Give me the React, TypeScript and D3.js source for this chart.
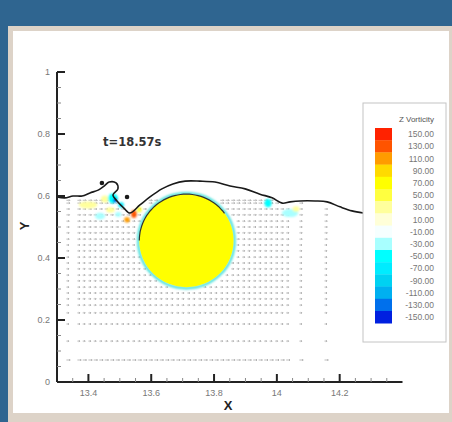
import React from 'react';
import * as d3 from 'd3';

const W = 452;
const H = 422;

// axis ticks
const xTicks = [13.4, 13.6, 13.8, 14, 14.2];
const yTicks = [0, 0.2, 0.4, 0.6, 0.8, 1];
const xMinor = [13.35, 13.45, 13.5, 13.55, 13.65, 13.7, 13.75, 13.85, 13.9, 13.95, 14.05, 14.1, 14.15, 14.25, 14.3, 14.35];
const yMinor = [0.05, 0.1, 0.15, 0.25, 0.3, 0.35, 0.45, 0.5, 0.55, 0.65, 0.7, 0.75, 0.85, 0.9, 0.95];

// Z vorticity contour legend
const legendLevels = [150, 130, 110, 90, 70, 50, 30, 10, -10, -30, -50, -70, -90, -110, -130, -150];
const legendColors = [
  '#ff2200', '#ff5400', '#ff9c00', '#ffda00', '#ffff00', '#ffff40', '#ffff9c', '#ffffd8',
  '#f6ffff', '#a8ffff', '#00ffff', '#00ecff', '#00d2f2', '#00b0f0', '#0070ec', '#0020e0',
];

// free surface at t=18.57s (x, y)
const surface: [number, number][] = [
  [13.3, 0.597], [13.325, 0.594], [13.351, 0.6], [13.38, 0.6], [13.405, 0.61], [13.431, 0.619],
  [13.45, 0.632], [13.466, 0.645], [13.488, 0.642], [13.494, 0.623], [13.478, 0.603], [13.491, 0.584],
  [13.513, 0.561], [13.532, 0.545], [13.564, 0.571], [13.596, 0.597], [13.634, 0.623], [13.669, 0.639],
  [13.708, 0.648], [13.755, 0.648], [13.803, 0.645], [13.851, 0.632], [13.899, 0.623], [13.946, 0.606],
  [13.985, 0.594], [14.017, 0.577], [14.042, 0.581], [14.074, 0.584], [14.122, 0.584], [14.16, 0.581],
  [14.201, 0.565], [14.239, 0.552], [14.275, 0.545],
];
const droplets: [number, number][] = [[13.443, 0.642], [13.523, 0.597]];

const cylinder = { cx: 13.712, cy: 0.456, r: 0.15 };

// velocity vector mesh
const gridX = [
  13.333, 13.368, 13.385, 13.403, 13.42, 13.438, 13.455, 13.473, 13.49, 13.508, 13.525, 13.543,
  13.56, 13.578, 13.595, 13.613, 13.63, 13.648, 13.665, 13.683, 13.7, 13.718, 13.735, 13.753,
  13.77, 13.788, 13.805, 13.823, 13.84, 13.858, 13.875, 13.893, 13.91, 13.928, 13.945, 13.963,
  13.98, 13.998, 14.015, 14.033, 14.075, 14.155,
];
const gridY = [
  0.586, 0.577, 0.558, 0.539, 0.519, 0.5, 0.481, 0.461, 0.442, 0.423, 0.403, 0.384, 0.365,
  0.345, 0.326, 0.306, 0.287, 0.268, 0.248, 0.223, 0.187, 0.132, 0.071,
];
const rowSpeed = [
  0.011, 0.011, 0.01, 0.01, 0.009, 0.009, 0.009, 0.009, 0.008, 0.008, 0.008, 0.008, 0.008,
  0.008, 0.008, 0.008, 0.008, 0.008, 0.008, 0.008, 0.008, 0.008, 0.012,
];

// vorticity patches near the breaking crest and downstream (x, y, rx, ry, w)
const vortPatches: [number, number, number, number, number][] = [
  [13.399, 0.571, 0.03, 0.011, 35],
  [13.437, 0.535, 0.016, 0.011, -20],
  [13.452, 0.59, 0.012, 0.012, 40],
  [13.478, 0.592, 0.016, 0.016, -45],
  [13.485, 0.586, 0.006, 0.007, -140],
  [13.504, 0.571, 0.009, 0.009, -60],
  [13.47, 0.555, 0.014, 0.009, 35],
  [13.495, 0.54, 0.01, 0.008, -30],
  [13.545, 0.542, 0.009, 0.013, 140],
  [13.523, 0.523, 0.009, 0.009, 105],
  [13.562, 0.556, 0.008, 0.009, 60],
  [13.972, 0.577, 0.011, 0.013, -50],
  [14.042, 0.545, 0.026, 0.013, -20],
  [14.061, 0.558, 0.011, 0.009, 35],
];

const x = d3.scaleLinear().domain([13.3, 14.4]).range([57, 402.5]);
const y = d3.scaleLinear().domain([0, 1]).range([382, 72]);

const bandOf = (w: number) => Math.max(0, Math.min(15, Math.round((150 - w) / 20)));

// lowest surface height crossing a given x
const surfaceAt = (px: number) => {
  let best = Infinity;
  for (let i = 0; i < surface.length - 1; i++) {
    const [x0, y0] = surface[i];
    const [x1, y1] = surface[i + 1];
    if ((px - x0) * (px - x1) <= 0 && x0 !== x1) {
      const v = y0 + ((px - x0) / (x1 - x0)) * (y1 - y0);
      if (v < best) best = v;
    }
  }
  return best;
};

const App = () => {
  const line = d3
    .line<[number, number]>()
    .x((d) => x(d[0]))
    .y((d) => y(d[1]))
    .curve(d3.curveCatmullRom.alpha(0.5));

  const vectors: string[] = [];
  gridY.forEach((gy, j) => {
    gridX.forEach((gx) => {
      const s = surfaceAt(gx);
      if (!(gy < s - 0.006)) return;
      const dx = gx - cylinder.cx;
      const dy = gy - cylinder.cy;
      if (Math.sqrt(dx * dx + dy * dy) < cylinder.r + 0.01) return;
      const x0 = x(gx) - 1;
      const yy = y(gy);
      const len = x(gx + rowSpeed[j]) - x(gx);
      vectors.push(`M${x0.toFixed(1)},${yy.toFixed(1)}h${len.toFixed(1)}m-1,-1l1,1l-1,1`);
    });
  });

  const cxp = x(cylinder.cx);
  const cyp = y(cylinder.cy);
  const rxp = x(cylinder.cx + cylinder.r) - cxp;
  const ryp = cyp - y(cylinder.cy + cylinder.r);
  // dark interface on the upper side of the cylinder
  const arc = d3.range(0, 41).map((i) => {
    const a = Math.PI + (i / 40) * (-Math.PI * 0.8);
    return [cxp + rxp * Math.cos(a), cyp - ryp * Math.sin(a)];
  });
  const arcPath = 'M' + arc.map((p) => p[0].toFixed(1) + ',' + p[1].toFixed(1)).join('L');

  const legX = 363;
  const legY = 103;
  const bandTop = 128;
  const bandH = 12.2;

  return (
    <svg width={W} height={H} style={{ position: 'fixed', left: 0, top: 0 }}>
      <defs>
        <filter id="soft" x="-50%" y="-50%" width="200%" height="200%">
          <feGaussianBlur stdDeviation="1" />
        </filter>
      </defs>
      <rect x={0} y={0} width={W} height={H} fill="#2f6590" />
      <rect x={8} y={26} width={W - 8} height={H - 26} fill="#ddd3c8" />
      <rect x={13} y={31} width={436} height={382} fill="#ffffff" />

      {/* velocity vectors */}
      <path d={vectors.join('')} fill="none" stroke="#a0a0a0" strokeWidth={0.7} />

      {/* vorticity patches */}
      <g filter="url(#soft)">
        {vortPatches.map((p, i) => (
          <ellipse
            key={i}
            cx={x(p[0])}
            cy={y(p[1])}
            rx={x(p[0] + p[2]) - x(p[0])}
            ry={y(p[1]) - y(p[1] + p[3])}
            fill={legendColors[bandOf(p[4])]}
          />
        ))}
      </g>

      {/* cylinder */}
      <ellipse cx={cxp} cy={cyp} rx={rxp + 1} ry={ryp + 1} fill="none" stroke="#46e0da" strokeWidth={2.5} filter="url(#soft)" />
      <ellipse cx={cxp} cy={cyp} rx={rxp} ry={ryp} fill="#ffff00" />
      <path d={arcPath} fill="none" stroke="#333" strokeWidth={1.2} />

      {/* free surface */}
      <path d={line(surface) || ''} fill="none" stroke="#1a1a1a" strokeWidth={1.6} />
      {droplets.map((d, i) => (
        <circle key={i} cx={x(d[0])} cy={y(d[1])} r={2.3} fill="#1a1a1a" />
      ))}

      {/* axes */}
      <g stroke="#222" strokeWidth={2}>
        <line x1={x(13.3)} x2={x(14.4)} y1={y(0)} y2={y(0)} />
        <line x1={x(13.3)} x2={x(13.3)} y1={y(0)} y2={y(1)} />
        {xTicks.map((t) => (
          <line key={t} x1={x(t)} x2={x(t)} y1={y(0)} y2={y(0) - 8} />
        ))}
        {yTicks.map((t) => (
          <line key={t} x1={x(13.3)} x2={x(13.3) + 8} y1={y(t)} y2={y(t)} />
        ))}
      </g>
      <g stroke="#888" strokeWidth={1}>
        {xMinor.map((t) => (
          <line key={t} x1={x(t)} x2={x(t)} y1={y(0)} y2={y(0) - 4} />
        ))}
        {yMinor.map((t) => (
          <line key={t} x1={x(13.3)} x2={x(13.3) + 4} y1={y(t)} y2={y(t)} />
        ))}
      </g>
      <g fontFamily="Arial, 'Liberation Sans', sans-serif" fontSize={9} fill="#777">
        {xTicks.map((t) => (
          <text key={t} x={x(t)} y={y(0) + 14} textAnchor="middle">
            {d3.format('~g')(t)}
          </text>
        ))}
        {yTicks.map((t) => (
          <text key={t} x={x(13.3) - 7} y={y(t) + 3} textAnchor="end">
            {d3.format('~g')(t)}
          </text>
        ))}
      </g>
      <text x={228} y={410} textAnchor="middle" fontFamily="Arial, sans-serif" fontWeight="bold" fontSize={13} fill="#222">
        X
      </text>
      <text
        transform="translate(29,226) rotate(-90)"
        textAnchor="middle"
        fontFamily="Arial, sans-serif"
        fontWeight="bold"
        fontSize={13}
        fill="#222"
      >
        Y
      </text>
      <text x={103} y={146} fontFamily="'DejaVu Sans', sans-serif" fontWeight="bold" fontSize={11.5} fill="#333">
        t=18.57s
      </text>

      {/* legend */}
      <rect x={legX} y={legY} width={83} height={239} fill="#fff" stroke="#c4c4c4" strokeWidth={1} />
      <text x={434} y={122} textAnchor="end" fontFamily="Arial, sans-serif" fontSize={8} fill="#555">
        Z Vorticity
      </text>
      {legendLevels.map((lv, i) => (
        <g key={lv}>
          <rect x={375} y={bandTop + i * bandH} width={17} height={bandH + 0.3} fill={legendColors[i]} />
          <text
            x={434}
            y={bandTop + i * bandH + bandH / 2 + 3}
            textAnchor="end"
            fontFamily="Arial, sans-serif"
            fontSize={8.5}
            fill="#777"
          >
            {lv.toFixed(2)}
          </text>
        </g>
      ))}
    </svg>
  );
};

export default App;
